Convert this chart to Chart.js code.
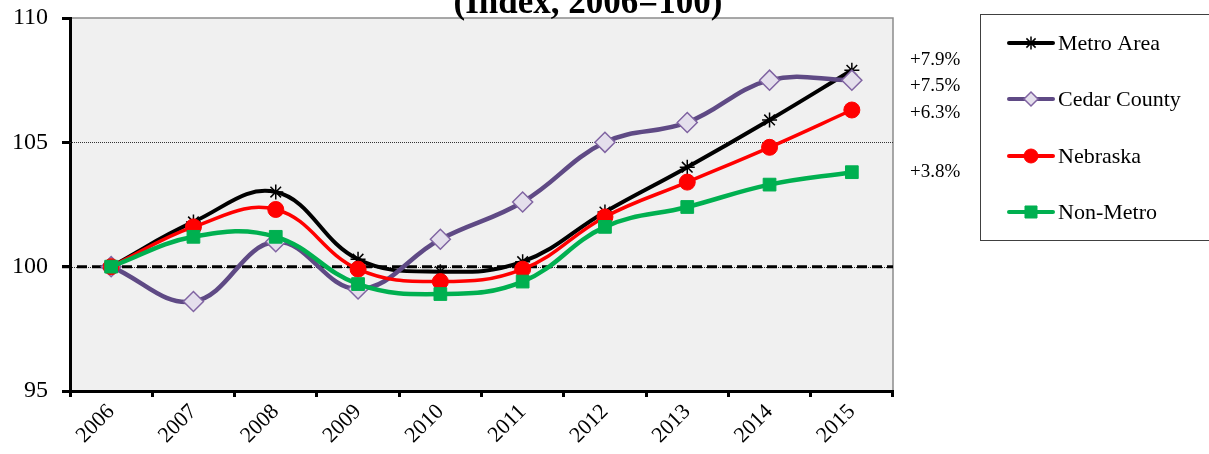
<!DOCTYPE html>
<html>
<head>
<meta charset="utf-8">
<script src="https://cdn.jsdelivr.net/npm/chart.js@4.4.1/dist/chart.umd.min.js"></script>
<style>
  html, body { margin: 0; padding: 0; background: #fff; }
  #wrap { width: 1209px; height: 454px; }
</style>
</head>
<body>
<div id="wrap"><canvas id="chart" width="1209" height="454"></canvas></div>
<script>
const years = ['2006', '2007', '2008', '2009', '2010', '2011', '2012', '2013', '2014', '2015'];
const metroArea = [100, 101.8, 103.0, 100.3, 99.8, 100.2, 102.2, 104.0, 105.9, 107.9];
const cedarCounty = [100, 98.6, 101.0, 99.1, 101.1, 102.6, 105.0, 105.8, 107.5, 107.5];
const nebraska = [100, 101.6, 102.3, 99.9, 99.4, 99.9, 102.0, 103.4, 104.8, 106.3];
const nonMetro = [100, 101.2, 101.2, 99.3, 98.9, 99.4, 101.6, 102.4, 103.3, 103.8];
const changeLabels = ['+7.9%', '+7.5%', '+6.3%', '+3.8%'];
const yTicks = [95, 100, 105, 110];
const titleText = '(Index, 2006=100)';

const serif = "'Liberation Serif', 'DejaVu Serif', serif";

// background, reference lines, title, change labels and legend box
const decor = {
  id: 'decor',
  beforeDraw(chart) {
    const { ctx, chartArea: a } = chart;
    ctx.save();
    ctx.fillStyle = '#f0f0f0';
    ctx.fillRect(a.left, a.top, a.right - a.left, a.bottom - a.top);
    ctx.strokeStyle = '#8c8c8c';
    ctx.lineWidth = 1.5;
    ctx.beginPath();
    ctx.moveTo(a.left, a.top);
    ctx.lineTo(a.right, a.top);
    ctx.lineTo(a.right, a.bottom);
    ctx.stroke();
    ctx.restore();
  },
  beforeDatasetsDraw(chart) {
    const { ctx, chartArea: a, scales } = chart;
    const y = scales.y;
    ctx.save();
    ctx.strokeStyle = '#333';
    ctx.lineWidth = 1;
    ctx.setLineDash([1, 1]);
    [100, 105].forEach(v => {
      const py = Math.round(y.getPixelForValue(v)) + 0.5;
      ctx.beginPath();
      ctx.moveTo(a.left, py);
      ctx.lineTo(a.right, py);
      ctx.stroke();
    });
    const p100 = y.getPixelForValue(100);
    ctx.strokeStyle = '#000';
    ctx.lineWidth = 3;
    ctx.setLineDash([10, 5]);
    ctx.beginPath();
    ctx.moveTo(a.left - 8, p100);
    ctx.lineTo(a.right, p100);
    ctx.stroke();
    ctx.restore();
  },
  afterDraw(chart) {
    const { ctx, chartArea: a } = chart;
    ctx.save();
    ctx.fillStyle = '#000';
    ctx.font = 'bold 35px ' + serif;
    ctx.textAlign = 'center';
    ctx.textBaseline = 'alphabetic';
    ctx.fillText(titleText, 588, 13);

    // change labels beside the last points
    ctx.font = '19px ' + serif;
    ctx.textAlign = 'left';
    ctx.textBaseline = 'middle';
    const labelY = [60, 86, 113, 172];
    changeLabels.forEach((t, i) => ctx.fillText(t, a.right + 17, labelY[i]));

    // legend
    ctx.strokeStyle = '#404040';
    ctx.lineWidth = 1;
    ctx.strokeRect(980.5, 14.5, 240, 226);
    const rows = [43, 99, 156, 212];
    const markerR = [6.5, 7, 7, 8.5];
    ctx.font = '22px ' + serif;
    chart.data.datasets.forEach((ds, i) => {
      const cy = rows[i];
      ctx.strokeStyle = ds.borderColor;
      ctx.lineWidth = 4;
      ctx.lineCap = 'round';
      ctx.setLineDash([]);
      ctx.beginPath();
      ctx.moveTo(1009, cy);
      ctx.lineTo(1053, cy);
      ctx.stroke();
      ctx.lineCap = 'butt';
      ctx.strokeStyle = ds.pointBorderColor;
      ctx.fillStyle = ds.pointBackgroundColor;
      ctx.lineWidth = ds.pointBorderWidth;
      Chart.helpers.drawPoint(ctx, {
        pointStyle: ds.pointStyle,
        rotation: 0,
        radius: markerR[i],
        borderWidth: ds.pointBorderWidth
      }, 1031, cy);
      ctx.fillStyle = '#000';
      ctx.fillText(ds.label, 1058, cy + 1);
    });
    ctx.restore();
  }
};

new Chart(document.getElementById('chart'), {
  type: 'line',
  data: {
    labels: years,
    datasets: [
      {
        label: 'Metro Area',
        data: metroArea,
        borderColor: '#000000',
        borderWidth: 4,
        pointStyle: 'star',
        pointRadius: 7.5,
        pointBorderColor: '#000000',
        pointBackgroundColor: '#000000',
        pointBorderWidth: 1.5,
        order: 3
      },
      {
        label: 'Cedar County',
        data: cedarCounty,
        borderColor: '#5f4a85',
        borderWidth: 4.5,
        pointStyle: 'rectRot',
        pointRadius: 10,
        pointBorderColor: '#8064a2',
        pointBackgroundColor: '#e4dfec',
        pointBorderWidth: 1.5,
        order: 2
      },
      {
        label: 'Nebraska',
        data: nebraska,
        borderColor: '#ff0000',
        borderWidth: 3.5,
        pointStyle: 'circle',
        pointRadius: 8,
        pointBorderColor: '#ff0000',
        pointBackgroundColor: '#ff0000',
        pointBorderWidth: 1,
        order: 1
      },
      {
        label: 'Non-Metro',
        data: nonMetro,
        borderColor: '#00b050',
        borderWidth: 4.5,
        pointStyle: 'rect',
        pointRadius: 9,
        pointBorderColor: '#00b050',
        pointBackgroundColor: '#00b050',
        pointBorderWidth: 1,
        order: 0
      }
    ]
  },
  options: {
    responsive: false,
    animation: false,
    events: [],
    layout: { padding: { top: 18, right: 316, left: 0, bottom: 0 } },
    elements: { line: { tension: 0.4, fill: false } },
    plugins: {
      legend: { display: false },
      title: { display: false },
      tooltip: { enabled: false }
    },
    scales: {
      x: {
        type: 'category',
        offset: true,
        grid: {
          offset: true,
          drawOnChartArea: false,
          drawTicks: true,
          tickLength: 6,
          tickWidth: 3,
          tickColor: '#000'
        },
        border: { color: '#000', width: 3 },
        ticks: {
          color: '#000',
          font: { family: serif, size: 22 },
          minRotation: 45,
          maxRotation: 45,
          padding: 2,
          autoSkip: false
        },
        afterFit(scale) {
          scale.height = 63;
          scale.paddingLeft = 0;
          scale.paddingRight = 0;
        }
      },
      y: {
        min: 95,
        max: 110,
        afterBuildTicks(scale) { scale.ticks = yTicks.map(v => ({ value: v })); },
        grid: {
          drawOnChartArea: false,
          drawTicks: true,
          tickLength: 8,
          tickWidth: 3,
          tickColor: '#000'
        },
        border: { color: '#000', width: 3 },
        ticks: {
          color: '#000',
          font: { family: serif, size: 24 },
          padding: 14
        },
        afterFit(scale) {
          scale.width = 70;
          scale.paddingTop = 0;
          scale.paddingBottom = 0;
        }
      }
    }
  },
  plugins: [decor]
});
</script>
</body>
</html>
